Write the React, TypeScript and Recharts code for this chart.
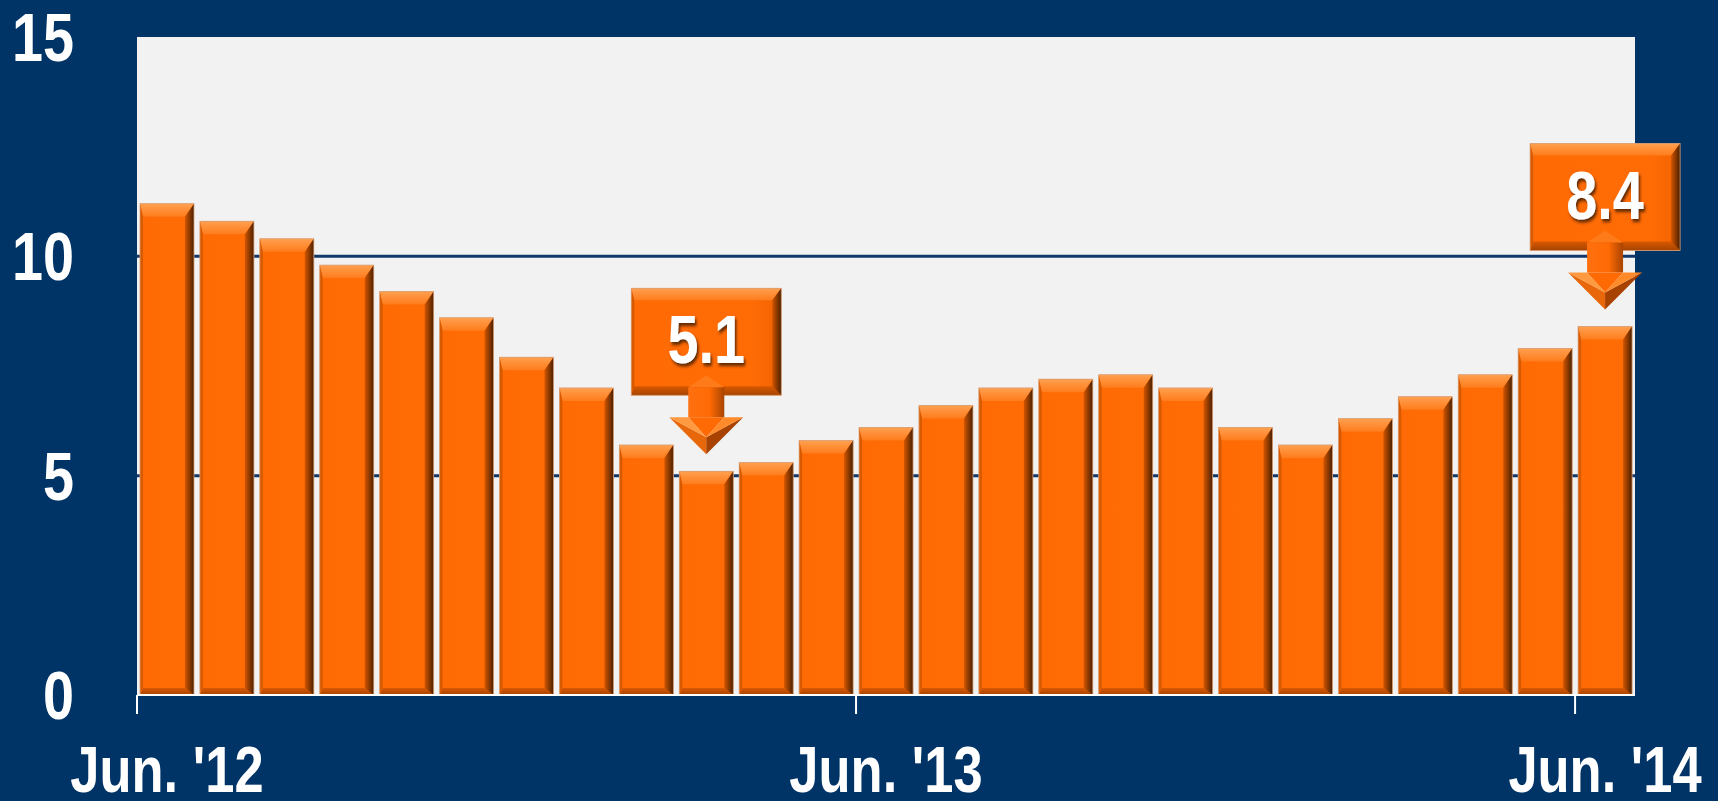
import React from 'react';
import { BarChart, Bar, XAxis, YAxis, CartesianGrid, LabelList } from 'recharts';

const months = [
  "Jun. '12", "Jul. '12", "Aug. '12", "Sep. '12", "Oct. '12", "Nov. '12", "Dec. '12",
  "Jan. '13", "Feb. '13", "Mar. '13", "Apr. '13", "May. '13", "Jun. '13", "Jul. '13",
  "Aug. '13", "Sep. '13", "Oct. '13", "Nov. '13", "Dec. '13", "Jan. '14", "Feb. '14",
  "Mar. '14", "Apr. '14", "May. '14", "Jun. '14",
];
const rates = [
  11.2, 10.8, 10.4, 9.8, 9.2, 8.6, 7.7, 7.0, 5.7, 5.1, 5.3, 5.8, 6.1,
  6.6, 7.0, 7.2, 7.3, 7.0, 6.1, 5.7, 6.3, 6.8, 7.3, 7.9, 8.4,
];
const yTicks = [0, 5, 10, 15];
const calloutIdx = [9, 24];

const data = months.map((m, i) => ({ month: m, rate: rates[i] }));

const FONT = '"Liberation Sans", Arial, sans-serif';
const NARROW = 0.82; // no Arial Narrow installed, squeeze Arial-metric bold instead
const W = 1718;
const H = 801;
const M = { top: 37, right: 83, left: 0, bottom: 0 };
const Y_W = 137;
const X_H = 106;
const band = (W - M.right - Y_W) / months.length;

const NarrowText = ({ x, y, anchor = 'middle', size, filter, children }: any) => (
  <text
    transform={`translate(${x},${y}) scale(${NARROW},1)`}
    x={0}
    y={0}
    textAnchor={anchor}
    fill="#fff"
    fontSize={size}
    fontWeight="bold"
    fontFamily={FONT}
    filter={filter}
  >
    {children}
  </text>
);

// bevelled box, like the office "bevel" shape effect
const Bevel = ({ x, y, w, h, t = 13, r = 9, b = 7, l = 3 }: any) => (
  <g>
    <rect x={x} y={y} width={w} height={h} fill="url(#faceGrad)" />
    <polygon points={`${x},${y} ${x + w},${y} ${x + w - r},${y + t} ${x + l},${y + t}`} fill="url(#topGrad)" />
    <polygon points={`${x},${y + h} ${x + w},${y + h} ${x + w - r},${y + h - b} ${x + l},${y + h - b}`} fill="url(#bottomGrad)" />
    <polygon points={`${x + w},${y} ${x + w},${y + h} ${x + w - r},${y + h - b} ${x + w - r},${y + t}`} fill="url(#rightGrad)" />
    <polygon points={`${x},${y} ${x + l},${y + t} ${x + l},${y + h - b} ${x},${y + h}`} fill="#d85a00" />
    <rect x={x} y={y} width={w} height={h} fill="none" stroke="#d8a27a" strokeWidth={0.8} />
  </g>
);

const BevelBar = (props: any) => {
  const { x, y, width, height } = props;
  if (!height || height <= 0) return null;
  return <Bevel x={x} y={y} w={width} h={height} />;
};

const Callout = (props: any) => {
  const vb = props.viewBox || props;
  const { x, y, width } = vb;
  const index = props.index;
  if (!calloutIdx.includes(index)) return null;
  const cx = x + width / 2;
  const boxW = 150;
  const boxH = 107;
  const boxBottom = y - 76;
  const boxTop = boxBottom - boxH;
  const headTop = y - 54;
  const tip = y - 17;
  const mid = y - 34;
  return (
    <g>
      <Bevel x={cx - boxW / 2} y={boxTop} w={boxW} h={boxH} t={12} r={9} b={9} l={3} />
      <rect x={cx - 18} y={boxBottom - 8} width={36} height={headTop - boxBottom + 8} fill="url(#shaftGrad)" />
      <polygon points={`${cx - 18},${boxBottom - 8} ${cx},${boxBottom - 20} ${cx + 18},${boxBottom - 8}`} fill="#ff7a18" />
      <polygon points={`${cx - 18},${headTop} ${cx + 18},${headTop} ${cx},${mid}`} fill="#ff6a04" />
      <polygon points={`${cx - 37},${headTop} ${cx},${mid} ${cx},${tip}`} fill="#e8670a" />
      <polygon points={`${cx + 37},${headTop} ${cx},${mid} ${cx},${tip}`} fill="#a84200" />
      <polygon points={`${cx - 37},${headTop} ${cx - 18},${headTop} ${cx},${mid}`} fill="#ff9a40" />
      <polygon points={`${cx + 37},${headTop} ${cx + 18},${headTop} ${cx},${mid}`} fill="#ff8a2a" />
      <NarrowText x={cx} y={boxTop + 75} size={68} filter="url(#txtShadow)">
        {rates[index].toFixed(1)}
      </NarrowText>
    </g>
  );
};

const XTick = (props: any) => {
  const { x, y, payload } = props;
  const off = payload && payload.offset ? payload.offset : band / 2;
  return (
    <g>
      <line x1={x - off} x2={x - off} y1={y} y2={y + 19} stroke="#fff" strokeWidth={2} />
      <NarrowText x={x} y={y + 97} size={64}>
        {payload.value}
      </NarrowText>
    </g>
  );
};

const YTick = (props: any) => {
  const { x, y, payload } = props;
  return (
    <NarrowText x={x} y={y + 24} anchor="end" size={68}>
      {payload.value}
    </NarrowText>
  );
};

const GridLine = (props: any) => {
  const { x1, x2, y1, y, height } = props;
  if (Math.abs(y1 - y) < 2 || Math.abs(y1 - (y + height)) < 2) return null;
  return <line x1={x1} x2={x2} y1={y1} y2={y1} stroke="#12386a" strokeWidth={3} />;
};

export default function App() {
  return (
    <div style={{ width: W, height: H, background: '#003366' }}>
      <style>{'body{margin:0}'}</style>
      <BarChart width={W} height={H} data={data} margin={M} barCategoryGap="5%">
        <defs>
          <linearGradient id="faceGrad" x1="0" y1="0" x2="1" y2="0">
            <stop offset="0" stopColor="#ff6a04" />
            <stop offset="0.8" stopColor="#ff6c06" />
            <stop offset="1" stopColor="#f06200" />
          </linearGradient>
          <linearGradient id="topGrad" x1="0" y1="0" x2="0" y2="1">
            <stop offset="0" stopColor="#ffa050" />
            <stop offset="1" stopColor="#ff7c1c" />
          </linearGradient>
          <linearGradient id="bottomGrad" x1="0" y1="0" x2="0" y2="1">
            <stop offset="0" stopColor="#d85800" />
            <stop offset="1" stopColor="#a64400" />
          </linearGradient>
          <linearGradient id="rightGrad" x1="0" y1="0" x2="1" y2="0">
            <stop offset="0" stopColor="#d25500" />
            <stop offset="1" stopColor="#4a2000" />
          </linearGradient>
          <linearGradient id="shaftGrad" x1="0" y1="0" x2="1" y2="0">
            <stop offset="0" stopColor="#ff7010" />
            <stop offset="0.6" stopColor="#ff6a04" />
            <stop offset="1" stopColor="#a84400" />
          </linearGradient>
          <filter id="txtShadow" x="-20%" y="-20%" width="140%" height="140%">
            <feDropShadow dx="2" dy="3" stdDeviation="1.5" floodColor="#4a1c00" floodOpacity="0.85" />
          </filter>
        </defs>
        <CartesianGrid fill="#f2f2f2" vertical={false} horizontal={GridLine} />
        <XAxis
          dataKey="month"
          interval={11}
          height={X_H}
          tickLine={false}
          tickSize={0}
          tickMargin={0}
          axisLine={{ stroke: '#ffffff', strokeWidth: 2 }}
          tick={<XTick />}
        />
        <YAxis
          width={Y_W}
          domain={[0, 15]}
          ticks={yTicks}
          axisLine={false}
          tickLine={false}
          tickSize={0}
          tickMargin={63}
          tick={<YTick />}
        />
        <Bar dataKey="rate" fill="#ff6a04" shape={BevelBar} isAnimationActive={false}>
          <LabelList dataKey="rate" content={Callout} />
        </Bar>
      </BarChart>
    </div>
  );
}
